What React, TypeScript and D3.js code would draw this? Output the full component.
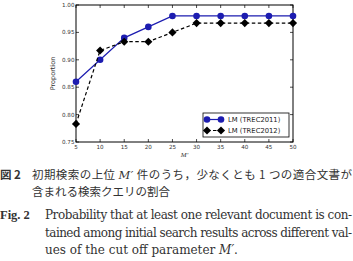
import React, { useEffect, useRef } from 'react';
import * as d3 from 'd3';

const cutoffs = [5, 10, 15, 20, 25, 30, 35, 40, 45, 50];
const trec2011 = [0.86, 0.9, 0.94, 0.96, 0.98, 0.98, 0.98, 0.98, 0.98, 0.98];
const trec2012 = [0.783, 0.917, 0.933, 0.933, 0.95, 0.967, 0.967, 0.967, 0.967, 0.967];
const seriesNames = ['LM (TREC2011)', 'LM (TREC2012)'];
const yTicks = [0.75, 0.8, 0.85, 0.9, 0.95, 1.0];
const xTicks = [5, 10, 15, 20, 25, 30, 35, 40, 45, 50];

const BLUE = '#1c1cb0';

const App: React.FC = () => {
  const ref = useRef<SVGGElement>(null);

  useEffect(() => {
    if (!ref.current) return;
    const g = d3.select(ref.current);
    g.selectAll('*').remove();

    const left = 76, right = 293, top = 5, bottom = 142;
    const x = d3.scaleLinear().domain([5, 50]).range([left, right]);
    const y = d3.scaleLinear().domain([0.75, 1.0]).range([bottom, top]);

    g.append('rect')
      .attr('x', left).attr('y', top)
      .attr('width', right - left).attr('height', bottom - top)
      .attr('fill', 'none').attr('stroke', '#000').attr('stroke-width', 1);

    // ticks, pointing inward on all sides
    const tl = 3;
    xTicks.forEach(t => {
      g.append('line').attr('x1', x(t)).attr('x2', x(t)).attr('y1', bottom).attr('y2', bottom - tl).attr('stroke', '#000').attr('stroke-width', 0.7);
      g.append('line').attr('x1', x(t)).attr('x2', x(t)).attr('y1', top).attr('y2', top + tl).attr('stroke', '#000').attr('stroke-width', 0.7);
      g.append('text').attr('x', x(t)).attr('y', bottom + 7)
        .attr('text-anchor', 'middle').attr('font-family', 'DejaVu Sans').attr('font-size', 5.6).attr('fill', '#333')
        .text(String(t));
    });
    yTicks.forEach(t => {
      g.append('line').attr('x1', left).attr('x2', left + tl).attr('y1', y(t)).attr('y2', y(t)).attr('stroke', '#000').attr('stroke-width', 0.7);
      g.append('line').attr('x1', right).attr('x2', right - tl).attr('y1', y(t)).attr('y2', y(t)).attr('stroke', '#000').attr('stroke-width', 0.7);
      g.append('text').attr('x', left - 1.5).attr('y', y(t) + 2)
        .attr('text-anchor', 'end').attr('font-family', 'DejaVu Sans').attr('font-size', 5.6).attr('fill', '#333')
        .text(t.toFixed(2));
    });

    g.append('text')
      .attr('transform', `translate(${55},${(top + bottom) / 2}) rotate(-90)`)
      .attr('text-anchor', 'middle').attr('font-family', 'DejaVu Sans').attr('font-size', 6.5).attr('fill', '#333')
      .text('Proportion');
    g.append('text').attr('x', (left + right) / 2).attr('y', 157)
      .attr('text-anchor', 'middle').attr('font-family', 'Liberation Serif').attr('font-style', 'italic')
      .attr('font-size', 7).attr('fill', '#333').text('M′');

    const line = d3.line<number>().x((_, i) => x(cutoffs[i])).y(d => y(d));

    g.append('path').attr('d', line(trec2011)).attr('fill', 'none').attr('stroke', BLUE).attr('stroke-width', 1.2);
    g.selectAll('circle.s1').data(trec2011).enter().append('circle')
      .attr('cx', (_, i) => x(cutoffs[i])).attr('cy', d => y(d)).attr('r', 3.3).attr('fill', BLUE);

    const diamond = d3.symbol().type(d3.symbolDiamond2).size(42);
    g.append('path').attr('d', line(trec2012)).attr('fill', 'none').attr('stroke', '#000')
      .attr('stroke-width', 1.2).attr('stroke-dasharray', '3.5,2.5');
    g.selectAll('path.s2').data(trec2012).enter().append('path')
      .attr('d', diamond()).attr('transform', (d, i) => `translate(${x(cutoffs[i])},${y(d)})`)
      .attr('fill', '#000');

    // legend
    const lx = 203, ly = 113;
    g.append('rect').attr('x', lx).attr('y', ly).attr('width', 86).attr('height', 24)
      .attr('fill', '#fff').attr('stroke', '#000').attr('stroke-width', 0.8);
    [0, 1].forEach(k => {
      const yy = ly + 6.5 + k * 11;
      if (k === 0) {
        g.append('line').attr('x1', lx + 4).attr('x2', lx + 18).attr('y1', yy).attr('y2', yy).attr('stroke', BLUE).attr('stroke-width', 1.2);
        [lx + 4, lx + 18].forEach(cx => g.append('circle').attr('cx', cx).attr('cy', yy).attr('r', 3.3).attr('fill', BLUE));
      } else {
        g.append('line').attr('x1', lx + 4).attr('x2', lx + 18).attr('y1', yy).attr('y2', yy).attr('stroke', '#000').attr('stroke-width', 1.2).attr('stroke-dasharray', '3.5,2.5');
        [lx + 4, lx + 18].forEach(cx => g.append('path').attr('d', diamond()).attr('transform', `translate(${cx},${yy})`).attr('fill', '#000'));
      }
      g.append('text').attr('x', lx + 25).attr('y', yy + 2.5)
        .attr('font-family', 'DejaVu Sans').attr('font-size', 6.8).attr('fill', '#222')
        .text(seriesNames[k]);
    });
  }, []);

  const jp = '"Noto Sans CJK JP", sans-serif';
  const serif = '"DejaVu Serif", serif';
  const jcol = 32;
  const ecol = 45;

  return (
    <svg width={353} height={261} style={{ position: 'absolute', left: 0, top: 0, background: '#fff' }}>
      <g ref={ref} />
      <g fill="#333">
        <text x={0} y={179} fontFamily={jp} fontSize={11.5} fontWeight="bold">図 2</text>
        <text x={jcol} y={179} fontFamily={jp} fontSize={11.5} textLength={320} lengthAdjust="spacing">
          初期検索の上位 <tspan fontFamily={serif} fontStyle="italic">M′</tspan> 件のうち，少なくとも 1 つの適合文書が
        </text>
        <text x={jcol} y={196} fontFamily={jp} fontSize={11.5}>含まれる検索クエリの割合</text>
        <text x={0} y={219} fontFamily='"Liberation Serif", serif' fontSize={12.5} fontWeight="bold">Fig. 2</text>
        <text x={ecol} y={219} fontFamily={serif} fontSize={12} textLength={307} lengthAdjust="spacing">
          Probability that at least one relevant document is con-
        </text>
        <text x={ecol} y={236.5} fontFamily={serif} fontSize={12} textLength={307} lengthAdjust="spacing">
          tained among initial search results across different val-
        </text>
        <text x={ecol} y={254} fontFamily={serif} fontSize={12}>
          ues of the cut off parameter <tspan fontStyle="italic">M′</tspan>.
        </text>
      </g>
    </svg>
  );
};

export default App;
